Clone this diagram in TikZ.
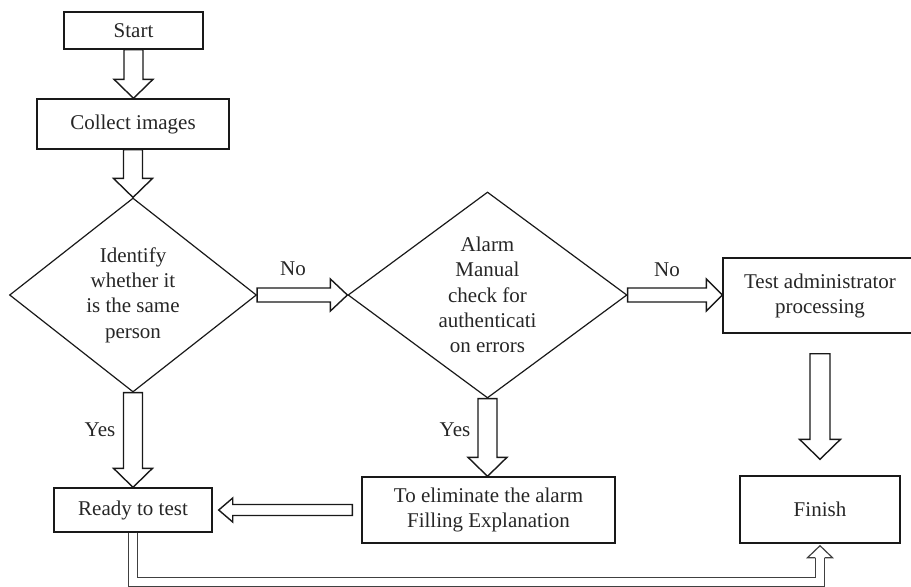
\documentclass[tikz,border=0pt]{standalone}
\usepackage{fontspec}
\setmainfont{Liberation Serif}
\usetikzlibrary{shapes.geometric,calc}

\newcommand{\blkdown}[5]{\draw[blkarrow] let \p1=(#1), \p2=(#2) in (\x1-#3,\y1) -- (\x1-#3,\y2+#5) -- (\x1-#4,\y2+#5) -- (\x1,\y2) -- (\x1+#4,\y2+#5) -- (\x1+#3,\y2+#5) -- (\x1+#3,\y1) -- cycle;}
\newcommand{\blkright}[5]{\draw[blkarrow] let \p1=(#1), \p2=(#2) in (\x1,\y1+#3) -- (\x2-#5,\y1+#3) -- (\x2-#5,\y1+#4) -- (\x2,\y1) -- (\x2-#5,\y1-#4) -- (\x2-#5,\y1-#3) -- (\x1,\y1-#3) -- cycle;}
\newcommand{\blkleft}[5]{\draw[blkarrow] let \p1=(#1), \p2=(#2) in (\x1,\y1+#3) -- (\x2+#5,\y1+#3) -- (\x2+#5,\y1+#4) -- (\x2,\y1) -- (\x2+#5,\y1-#4) -- (\x2+#5,\y1-#3) -- (\x1,\y1-#3) -- cycle;}

\begin{document}
\begin{tikzpicture}[x=0.5pt,y=-0.5pt,
procbox/.style={draw=black!90,line width=0.7pt,shape=rectangle,text=black!85,align=center,font=\fontsize{10.5}{12.5}\selectfont},
decision/.style={draw=black!90,line width=0.6pt,shape=diamond,inner sep=0pt,text=black!85,align=center,font=\fontsize{10.5}{12.7}\selectfont},
branch/.style={text=black!85,font=\fontsize{10.5}{12}\selectfont},
blkarrow/.style={draw=black!90,line width=0.7pt,fill=white,line join=miter},
dblline/.style={draw=black!75,line width=0.6pt,double=white,double distance=4pt},
dblhead/.style={draw=black!75,line width=0.6pt}]
\clip (0,0) rectangle (911,586);

\node[procbox,minimum width=69.5pt,minimum height=18.5pt] (start) at (133.5,30.5) {Start};
\node[procbox,minimum width=96pt,minimum height=25pt] (collect) at (133,124) {Collect images};
\node[decision,shape aspect=1.27,minimum width=123.5pt,minimum height=97pt] (same) at (133,295) {Identify\\whether it\\is the same\\person};
\node[decision,shape aspect=1.35,minimum width=139.5pt,minimum height=103pt] (alarm) at (487.5,295) {Alarm\\Manual\\check for\\authenticati\\on errors};
\node[procbox,minimum width=97pt,minimum height=37.5pt] (admin) at (820,295.5) {Test administrator\\processing};
\node[procbox,minimum width=79pt,minimum height=22pt] (ready) at (133,510) {Ready to test};
\node[procbox,minimum width=126.5pt,minimum height=33pt] (explain) at (488.5,510) {To eliminate the alarm\\Filling Explanation};
\node[procbox,minimum width=80pt,minimum height=33.5pt] (finish) at (820,509.5) {Finish};

\node[branch] (no1) at (293,269) {No};
\node[branch] (no2) at (667,270) {No};
\node[branch] (yes1) at (100,430) {Yes};
\node[branch] (yes2) at (455,430) {Yes};

\blkdown{start.south}{collect.north}{4.75pt}{9.75pt}{9.5pt}
\blkdown{collect.south}{same.north}{4.75pt}{9.75pt}{9.5pt}
\blkright{same.east}{alarm.west}{3.5pt}{8pt}{8.5pt}
\blkright{alarm.east}{admin.west}{3.5pt}{8pt}{8pt}
\blkdown{same.south}{ready.north}{4.75pt}{9.75pt}{9.5pt}
\blkdown{alarm.south}{explain.north}{4.75pt}{9.75pt}{9.5pt}
\blkdown{$(admin.south)+(0pt,-10pt)$}{$(finish.north)+(0pt,8pt)$}{5pt}{10.25pt}{10pt}
\blkleft{$(explain.west)+(-4.5pt,0pt)$}{$(ready.east)+(3pt,0pt)$}{2.75pt}{6pt}{7pt}

\draw[dblline] (ready.south) -- ++(0pt,-24.5pt) -| ($(finish.south)+(0pt,-7pt)$);
\draw[dblhead] let \p1=(finish.south) in (\x1-2.3pt,\y1-7pt) -- (\x1-6.25pt,\y1-7pt) -- (\x1,\y1-1pt) -- (\x1+6.25pt,\y1-7pt) -- (\x1+2.3pt,\y1-7pt);
\end{tikzpicture}
\end{document}
